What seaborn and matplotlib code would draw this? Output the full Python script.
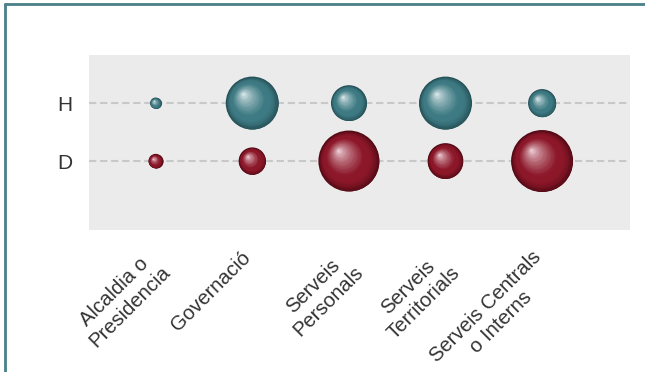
import numpy as np
import pandas as pd
import matplotlib
matplotlib.use("Agg")
import matplotlib.pyplot as plt
import matplotlib.transforms as mtrans
from matplotlib.lines import Line2D
from matplotlib.colors import to_rgb
import seaborn as sns

# ---- data ----
categories = ["Alcaldia o\nPresidencia", "Governació", "Serveis\nPersonals",
              "Serveis\nTerritorials", "Serveis Centrals\no Interns"]
series_names = ["H", "D"]
values_H = [3, 68, 31, 68, 19]
values_D = [5, 18, 90, 31, 93]

df = pd.DataFrame({
    "cat": categories * 2,
    "grp": ["H"] * 5 + ["D"] * 5,
    "val": values_H + values_D,
})

sns.set_style("white", {"axes.facecolor": "#ebebeb"})
plt.rcParams["font.family"] = ["Liberation Sans", "DejaVu Sans"]

DPI = 100
fig = plt.figure(figsize=(6.45, 3.72), dpi=DPI)
ax = fig.add_axes([89 / 645, 1 - 230 / 372, (630 - 89) / 645, (230 - 55) / 372])

xpos = {c: i for i, c in enumerate(categories)}
ypos = {"H": 0, "D": 1}
df["x"] = df["cat"].map(xpos)
df["y"] = df["grp"].map(ypos)

# bubble radius in points: area proportional to value
max_r_px = 31.0
vmax = df["val"].max()
df["r_pt"] = max_r_px * np.sqrt(df["val"] / vmax) * 72 / DPI

edge_cols = {"H": "#244f56", "D": "#520a15"}
base_cols = {"H": "#3e7a83", "D": "#8c1729"}
high_cols = {"H": "#f4fafa", "D": "#fcecf1"}

# grid lines
for g in series_names:
    ax.axhline(ypos[g], color="#c8c8c8", lw=1.5, ls=(0, (3.5, 1.8)), zorder=0)

# outer (dark edge) layer via seaborn
sns.scatterplot(data=df, x="x", y="y", hue="grp", palette=edge_cols,
                s=(2 * df["r_pt"]) ** 2, linewidth=0, legend=False, ax=ax, zorder=2)


def mix(c1, c2, t):
    a = np.array(to_rgb(c1)); b = np.array(to_rgb(c2))
    return tuple(a + (b - a) * t)


def shade(g, u):
    # u = relative radius: 1 outer edge -> 0 focal highlight
    e, b, h = edge_cols[g], base_cols[g], high_cols[g]
    if u > 0.75:
        return mix(b, e, ((u - 0.75) / 0.25) ** 1.5)
    if u > 0.62:
        return to_rgb(b)
    return mix(h, b, (u / 0.62) ** 0.65)


N = 45
for _, row in df.iterrows():
    r = row["r_pt"]
    fx, fy = -0.36 * r, 0.36 * r
    for k in range(1, N):
        u = 1 - k / N
        rk = r * u
        dx = (1 - u) * fx
        dy = (1 - u) * fy
        tr = mtrans.offset_copy(ax.transData, fig=fig, x=dx, y=dy, units="points")
        ax.scatter([row["x"]], [row["y"]], s=(2 * rk) ** 2, color=shade(row["grp"], u),
                   linewidths=0, transform=tr, zorder=3 + k)

ax.set_xlim(-0.69, 4.91)
ax.set_ylim(2.19, -0.83)
ax.set_xticks(range(len(categories)))
ax.set_xticklabels(categories, rotation=45, ha="right", rotation_mode="anchor",
                   fontsize=14.6, color="#333333", multialignment="center")
ax.set_yticks([ypos[g] for g in series_names])
ax.set_yticklabels(series_names, fontsize=15, color="#333333")
ax.tick_params(axis="both", length=0)
ax.tick_params(axis="y", pad=12)
ax.tick_params(axis="x", pad=14)
shift = mtrans.ScaledTranslation(-11 / DPI, 2 / DPI, fig.dpi_scale_trans)
for lab in ax.get_xticklabels():
    lab.set_transform(lab.get_transform() + shift)
ax.set_xlabel("")
ax.set_ylabel("")
for sp in ax.spines.values():
    sp.set_visible(False)

# frame lines (top and left)
border = "#4a8088"
fig.add_artist(Line2D([4.5 / 645, 1], [1 - 4 / 372, 1 - 4 / 372], color=border, lw=2,
                      transform=fig.transFigure))
fig.add_artist(Line2D([4.5 / 645, 4.5 / 645], [0, 1 - 4 / 372], color=border, lw=2,
                      transform=fig.transFigure))

fig.savefig("out.png", dpi=DPI)
